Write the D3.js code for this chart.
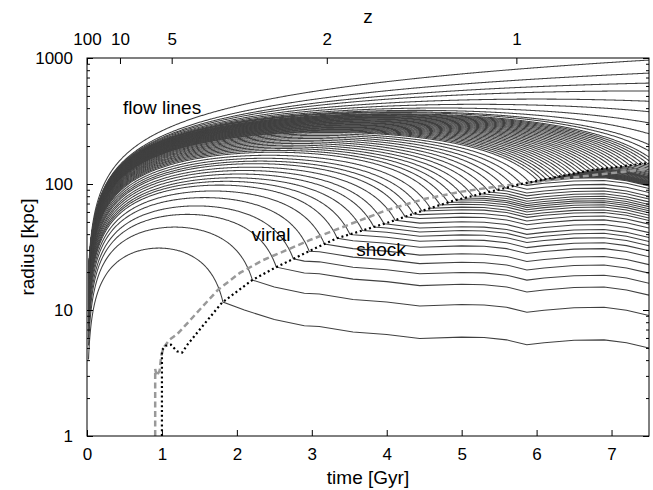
<!DOCTYPE html>
<html>
<head>
<meta charset="utf-8">
<script src="https://cdn.jsdelivr.net/npm/d3@7"></script>
<style>
  body { margin: 0; background: #fff; }
  text { font-family: "Liberation Sans", Arial, Helvetica, sans-serif; }
</style>
</head>
<body>
<svg id="chart" width="653" height="490"></svg>
<script>
// turnaround time [Gyr] and turnaround radius [kpc] of each flow line
const turnTime = [0.96, 1.17, 1.34, 1.46, 1.57, 1.68, 1.77, 1.86, 1.95, 2.03, 2.10, 2.18, 2.25,
  2.31, 2.37, 2.43,
  2.50, 2.56, 2.62, 2.68, 2.74, 2.80, 2.86, 2.92, 2.98, 3.04, 3.10, 3.16, 3.22, 3.25, 3.28,
  3.31, 3.34, 3.37, 3.40, 3.43, 3.46, 3.49, 3.52, 3.55, 3.58, 3.61, 3.64, 3.67, 3.70, 3.73,
  3.76, 3.79, 3.82, 3.85, 3.88, 3.91, 3.94, 3.97, 4.00, 4.03, 4.06,
  4.12, 4.2, 4.4, 4.7, 5.2, 6.0, 7.5, 9.8, 18, 100];
const turnRadius = [31, 45.5, 57.4, 67, 78, 88, 98, 105, 112, 120, 128, 136, 145,
  152, 160, 169,
  178.7, 184.8, 191, 197.1, 203.4, 209.8, 216.3, 222.8, 229.5, 236, 243, 249.7, 256.6, 260.1, 263.5,
  267.2, 270.7, 274.2, 277.9, 281.4, 285, 288.7, 292.3, 296, 299.7, 303.4, 307.1, 310.8, 314.5, 318.3,
  322.1, 326, 329.8, 333.6, 337.5, 341.4, 345.2, 349.1, 353.1, 357.1, 361.1,
  369, 374, 384, 401, 429, 472, 548, 655, 982, 3270];

// shock radius (dotted)
const shockTime = [1.0, 1.0, 1.05, 1.12, 1.2, 1.27, 1.35, 1.47, 1.6, 1.8, 2.0, 2.2, 2.5, 2.75,
  3.0, 3.33, 4.0, 4.5, 4.9, 5.8, 6.7, 7.5];
const shockRadius = [1, 4.8, 5.2, 5.3, 4.7, 4.6, 5.4, 6.6, 8.2, 11.4, 14.0, 17.2, 21.5, 25.4,
  30, 37, 49, 62, 74, 100, 128, 147];

// virial radius (grey dashed)
const virialTime = [0.91, 0.91, 0.93, 0.97, 0.99, 1.02, 1.1, 1.2, 1.3, 1.4, 1.5, 1.75, 2.04, 2.35,
  2.67, 2.97, 3.24, 3.55, 4.0, 4.5, 5.0, 5.5, 6.0, 6.5, 7.0, 7.5];
const virialRadius = [1, 3.4, 3.0, 3.3, 4.3, 5.0, 5.8, 6.4, 7.4, 8.6, 10.0, 14.5, 19.7, 24.9,
  30, 35.8, 41.5, 49, 62, 76, 87, 96, 104, 113, 122, 132];

// post-shock track of the innermost flow line (shape shared by all shocked shells)
const settleTime = [1.81, 2.1, 2.5, 2.9, 3.1, 3.55, 4.0, 4.44, 5.0, 5.3, 5.6, 5.87, 6.1, 6.5,
  6.9, 7.2, 7.5];
const settleRadius = [11.6, 10.0, 8.4, 7.5, 7.4, 6.7, 6.4, 5.95, 6.1, 6.05, 5.8, 5.3, 5.5, 5.75,
  5.8, 5.5, 5.0];

// redshift axis on top
const zTicks = [100, 10, 5, 2, 1];
const zTickTime = [0.0, 0.44, 1.13, 3.2, 5.73];

const startTime = 0.02;

const svg = d3.select("#chart");
const mLeft = 87, mRight = 649, mTop = 58, mBottom = 436;

const x = d3.scaleLinear().domain([0, 7.5]).range([mLeft, mRight]);
const y = d3.scaleLog().domain([1, 1000]).range([mBottom, mTop]);

svg.append("clipPath").attr("id", "plotclip")
  .append("rect").attr("x", mLeft).attr("y", mTop)
  .attr("width", mRight - mLeft).attr("height", mBottom - mTop);

// piecewise linear in log r
function logInterp(ts, rs, t) {
  if (t <= ts[0]) return rs[0];
  for (let i = 0; i < ts.length - 1; i++) {
    if (t >= ts[i] && t <= ts[i + 1] && ts[i + 1] > ts[i]) {
      const f = (t - ts[i]) / (ts[i + 1] - ts[i]);
      return Math.exp(Math.log(rs[i]) * (1 - f) + Math.log(rs[i + 1]) * f);
    }
  }
  return rs[rs.length - 1];
}
const shockAt = t => logInterp(shockTime, shockRadius, t);
const settleAt = t => logInterp(settleTime, settleRadius, t);

// spherical shell: theta - sin(theta) = pi t / tTa
function solveTheta(M) {
  if (M >= 2 * Math.PI) return 2 * Math.PI;
  let lo = 0, hi = 2 * Math.PI;
  for (let k = 0; k < 50; k++) {
    const mid = (lo + hi) / 2;
    if (mid - Math.sin(mid) < M) lo = mid; else hi = mid;
  }
  return (lo + hi) / 2;
}
function shellR(tTa, rTa, t) {
  const th = solveTheta(Math.PI * t / tTa);
  return { th: th, r: rTa * (1 - Math.cos(th)) / 2 };
}

const grid = [];
for (let t = startTime; t < 0.4; t *= 1.06) grid.push(t);
for (let i = 0; i <= 710; i++) grid.push(0.4 + i * 0.01);

function flowLine(tTa, rTa) {
  const pts = [];
  let prev = null;
  for (const t of grid) {
    const s = shellR(tTa, rTa, t);
    const shocked = s.th > Math.PI && t >= shockTime[0] && s.r <= shockAt(t);
    if (shocked) {
      let lo = prev, hi = t;
      for (let k = 0; k < 40; k++) {
        const mid = (lo + hi) / 2;
        if (shellR(tTa, rTa, mid).r > shockAt(mid)) lo = mid; else hi = mid;
      }
      const tS = (lo + hi) / 2, rS = shockAt(tS);
      pts.push([tS, rS]);
      const p0 = settleAt(tS);
      settleTime.forEach(ts => { if (ts > tS) pts.push([ts, rS * settleAt(ts) / p0]); });
      return pts;
    }
    pts.push([t, s.r]);
    prev = t;
  }
  return pts;
}

const line = d3.line().x(d => x(d[0])).y(d => y(d[1]));
const plot = svg.append("g").attr("clip-path", "url(#plotclip)");

plot.selectAll(".flow")
  .data(turnTime.map((t, i) => flowLine(t, turnRadius[i])))
  .enter().append("path")
  .attr("class", "flow")
  .attr("d", line)
  .attr("fill", "none")
  .attr("stroke", "#404040")
  .attr("stroke-width", 1.05);

plot.append("path")
  .datum(virialTime.map((t, i) => [t, virialRadius[i]]))
  .attr("d", line)
  .attr("fill", "none")
  .attr("stroke", "#999")
  .attr("stroke-width", 2.5)
  .attr("stroke-dasharray", "6 3.5");

plot.append("path")
  .datum(shockTime.map((t, i) => [t, shockRadius[i]]))
  .attr("d", line)
  .attr("fill", "none")
  .attr("stroke", "#000")
  .attr("stroke-width", 2.2)
  .attr("stroke-dasharray", "2 2.8");

// axes
const tickFont = "17px", labelFont = "19px";
function styleAxis(g) {
  g.select(".domain").remove();
  g.selectAll("line").attr("stroke", "#000");
  g.selectAll("text").style("font-size", tickFont).attr("fill", "#000");
}
const minor = [];
[1, 10, 100].forEach(d => { for (let k = 2; k <= 9; k++) minor.push(d * k); });

svg.append("g").attr("transform", `translate(0,${mBottom})`)
  .call(d3.axisBottom(x).tickValues(d3.range(0, 8)).tickSize(-6).tickPadding(12).tickFormat(d3.format("d")))
  .call(styleAxis);

svg.append("g").attr("transform", `translate(0,${mTop})`)
  .call(d3.axisTop(x).tickValues(zTickTime).tickSize(-6).tickPadding(13)
    .tickFormat((d, i) => zTicks[i]))
  .call(styleAxis);

svg.append("g").attr("transform", `translate(${mLeft},0)`)
  .call(d3.axisLeft(y).tickValues([1, 10, 100, 1000]).tickSize(-6).tickPadding(14).tickFormat(d3.format("d")))
  .call(styleAxis);
svg.append("g").attr("transform", `translate(${mLeft},0)`)
  .call(d3.axisLeft(y).tickValues(minor).tickSize(-3).tickFormat(""))
  .call(styleAxis);
svg.append("g").attr("transform", `translate(${mRight},0)`)
  .call(d3.axisRight(y).tickValues([1, 10, 100, 1000]).tickSize(-6).tickFormat(""))
  .call(styleAxis);
svg.append("g").attr("transform", `translate(${mRight},0)`)
  .call(d3.axisRight(y).tickValues(minor).tickSize(-3).tickFormat(""))
  .call(styleAxis);

svg.append("rect")
  .attr("x", mLeft).attr("y", mTop)
  .attr("width", mRight - mLeft).attr("height", mBottom - mTop)
  .attr("fill", "none").attr("stroke", "#000").attr("stroke-width", 1);

// axis titles and annotations
svg.append("text").attr("x", (mLeft + mRight) / 2).attr("y", 484)
  .attr("text-anchor", "middle").style("font-size", labelFont).text("time [Gyr]");
svg.append("text").attr("x", (mLeft + mRight) / 2).attr("y", 23)
  .attr("text-anchor", "middle").style("font-size", labelFont).text("z");
svg.append("text").attr("transform", "translate(34,247) rotate(-90)")
  .attr("text-anchor", "middle").style("font-size", labelFont).text("radius [kpc]");

svg.append("text").attr("x", 123).attr("y", 114).style("font-size", labelFont).text("flow lines");
svg.append("text").attr("x", 271).attr("y", 241).attr("text-anchor", "middle")
  .style("font-size", labelFont).text("virial");
svg.append("text").attr("x", 381).attr("y", 256).attr("text-anchor", "middle")
  .style("font-size", labelFont).text("shock");
</script>
</body>
</html>
